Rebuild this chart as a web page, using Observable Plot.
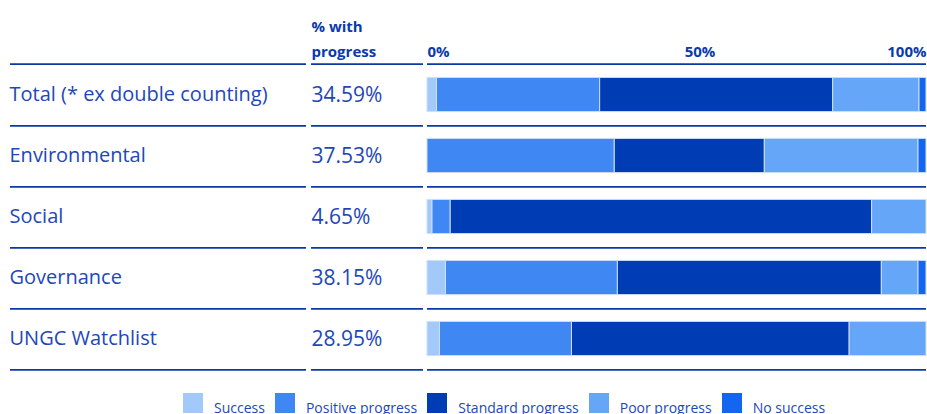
<!DOCTYPE html>
<html>
<head>
<meta charset="utf-8">
<script src="https://cdn.jsdelivr.net/npm/d3@7"></script>
<script src="https://cdn.jsdelivr.net/npm/@observablehq/plot@0.6"></script>
<style>
  html, body { margin: 0; padding: 0; background: #fff; }
  body { width: 927px; height: 414px; overflow: hidden; font-family: "Open Sans", sans-serif; }
  #chart svg { display: block; }
  .legend { display: flex; align-items: flex-start; padding-left: 183px; margin-top: 13px; height: 40px; }
  .legend .item { display: flex; align-items: flex-start; margin-right: 10px; }
  .legend .sw { width: 20px; height: 20px; margin-right: 11px; }
  .legend .lb { font-size: 14px; color: #1e47b8; line-height: 1; padding-top: 8px; white-space: nowrap; }
</style>
</head>
<body>
<div id="chart"></div>
<script>
const categories = ["Total (* ex double counting)", "Environmental", "Social", "Governance", "UNGC Watchlist"];
const progressLabels = ["34.59%", "37.53%", "4.65%", "38.15%", "28.95%"];
const seriesNames = ["Success", "Positive progress", "Standard progress", "Poor progress", "No success"];
const seriesColors = ["#a3c9fa", "#3f87f2", "#003cb4", "#66a6f8", "#1466f0"];
const success  = [1.9, 0, 1.0, 3.7, 2.5];
const positive = [32.7, 37.53, 3.65, 34.45, 26.45];
const standard = [46.7, 30.07, 84.45, 52.9, 55.65];
const poor     = [17.3, 30.8, 10.9, 7.35, 15.4];
const noSuccess = [1.4, 1.6, 0, 1.6, 0];
const xTicks = [0, 50, 100];
const xTickLabels = ["0%", "50%", "100%"];
const headerLabel = "% with\nprogress";

const seriesValues = [success, positive, standard, poor, noSuccess];
const bars = [];
categories.forEach((c, i) => {
  seriesNames.forEach((s, j) => {
    if (seriesValues[j][i] > 0) bars.push({category: c, series: s, value: seriesValues[j][i]});
  });
});
const rows = categories.map((c, i) => ({category: c, pct: progressLabels[i]}));
const ticks = xTicks.map((t, i) => ({x: t, label: xTickLabels[i]}));

const W = 927, H = 380, mTop = 62, mBottom = 9, mLeft = 427, mRight = 1;
const band = (H - mTop - mBottom) / categories.length;
const lineColor = "#0b3aa8";
const textColor = "#1e47b8";
const headColor = "#0a3aab";
const fontFam = "'Open Sans', sans-serif";

const plot = Plot.plot({
  width: W, height: H,
  marginTop: mTop, marginBottom: mBottom, marginLeft: mLeft, marginRight: mRight,
  style: {fontFamily: fontFam, background: "#fff", overflow: "visible"},
  x: {domain: [0, 100], axis: null},
  y: {domain: categories, padding: 0, axis: null},
  color: {domain: seriesNames, range: seriesColors},
  marks: [
    // row separators: label column, value column, bar column
    Plot.ruleY(categories, {y: d => d, dy: band / 2, stroke: lineColor, strokeWidth: 1.8, insetLeft: -417, insetRight: 620}),
    Plot.ruleY(categories, {y: d => d, dy: band / 2, stroke: lineColor, strokeWidth: 1.8, insetLeft: -116, insetRight: 503}),
    Plot.ruleY(categories, {y: d => d, dy: band / 2, stroke: lineColor, strokeWidth: 1.8}),
    // header lines
    Plot.ruleY([categories[0]], {y: d => d, dy: -band / 2, stroke: lineColor, strokeWidth: 1.8, insetLeft: -417, insetRight: 620}),
    Plot.ruleY([categories[0]], {y: d => d, dy: -band / 2, stroke: lineColor, strokeWidth: 1.8, insetLeft: -116, insetRight: 503}),
    Plot.ruleY([categories[0]], {y: d => d, dy: -band / 2, stroke: lineColor, strokeWidth: 1.8}),
    // stacked bars
    Plot.barX(bars, {x: "value", y: "category", fill: "series", stroke: "#cfe0f8", strokeWidth: 1, insetTop: 13.4, insetBottom: 13.4}),
    // category labels
    Plot.text(rows, {y: "category", text: "category", frameAnchor: "left", textAnchor: "start", dx: -418, fontSize: 20, fill: textColor}),
    // values
    Plot.text(rows, {y: "category", text: "pct", frameAnchor: "left", textAnchor: "start", dx: -116, fontSize: 21, fill: textColor}),
    // header
    Plot.text([headerLabel], {text: d => d, frameAnchor: "top-left", textAnchor: "start", lineAnchor: "bottom", dx: -116, dy: -6, lineHeight: 1.65, fontSize: 15, fontWeight: "bold", fill: headColor}),
    // x tick labels
    Plot.text([ticks[0]], {x: "x", text: "label", frameAnchor: "top", textAnchor: "start", lineAnchor: "bottom", dy: -6, fontSize: 15, fontWeight: "bold", fill: headColor}),
    Plot.text([ticks[1]], {x: "x", text: "label", frameAnchor: "top", textAnchor: "middle", lineAnchor: "bottom", dx: 23, dy: -6, fontSize: 15, fontWeight: "bold", fill: headColor}),
    Plot.text([ticks[2]], {x: "x", text: "label", frameAnchor: "top", textAnchor: "end", lineAnchor: "bottom", dy: -6, fontSize: 15, fontWeight: "bold", fill: headColor})
  ]
});
document.getElementById("chart").appendChild(plot);

const legend = document.createElement("div");
legend.className = "legend";
seriesNames.forEach((s, i) => {
  const item = document.createElement("div");
  item.className = "item";
  const sw = document.createElement("div");
  sw.className = "sw";
  sw.style.background = seriesColors[i];
  const lb = document.createElement("div");
  lb.className = "lb";
  lb.textContent = s;
  item.appendChild(sw);
  item.appendChild(lb);
  legend.appendChild(item);
});
document.getElementById("chart").appendChild(legend);
</script>
</body>
</html>
